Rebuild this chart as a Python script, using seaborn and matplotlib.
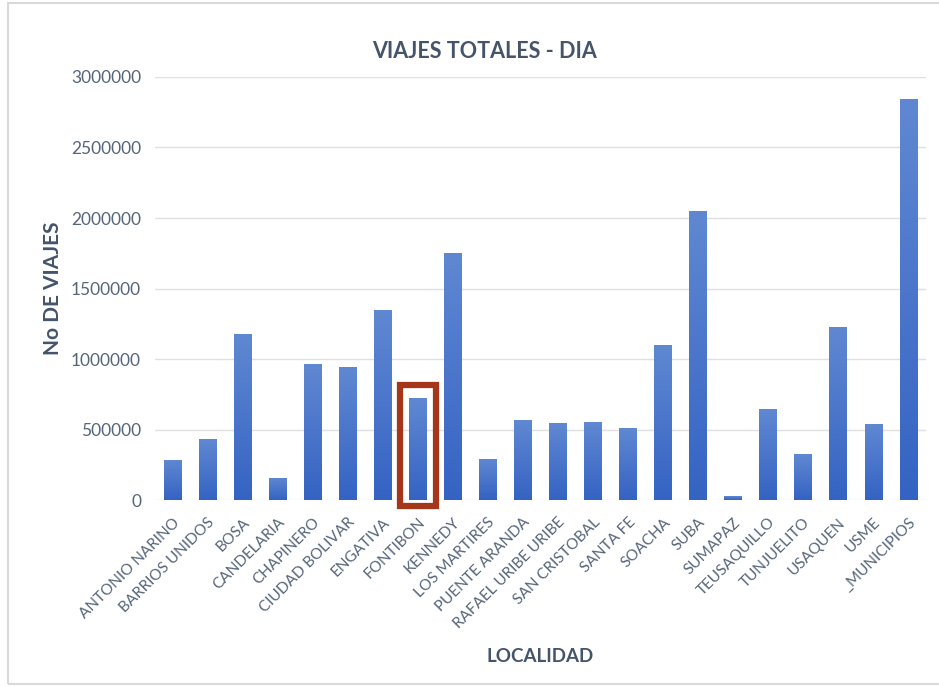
import numpy as np
import pandas as pd
import matplotlib
matplotlib.use("Agg")
import matplotlib.pyplot as plt
from matplotlib.patches import Rectangle
from matplotlib.colors import LinearSegmentedColormap
import seaborn as sns

# Data
localidades = [
    "ANTONIO NARINO", "BARRIOS UNIDOS", "BOSA", "CANDELARIA", "CHAPINERO",
    "CIUDAD BOLIVAR", "ENGATIVA", "FONTIBON", "KENNEDY", "LOS MARTIRES",
    "PUENTE ARANDA", "RAFAEL URIBE URIBE", "SAN CRISTOBAL", "SANTA FE",
    "SOACHA", "SUBA", "SUMAPAZ", "TEUSAQUILLO", "TUNJUELITO", "USAQUEN",
    "USME", "_MUNICIPIOS",
]
viajes = [
    284000, 432000, 1177000, 157000, 965000,
    943000, 1347000, 723000, 1752000, 291000,
    567000, 546000, 553000, 511000,
    1099000, 2050000, 28000, 645000, 326000, 1227000,
    539000, 2844000,
]
y_ticks = [0, 500000, 1000000, 1500000, 2000000, 2500000, 3000000]
resaltada = "FONTIBON"

df = pd.DataFrame({"localidad": localidades, "viajes": viajes})

sns.set_style("white")
plt.rcParams["font.family"] = ["Lato", "DejaVu Sans"]

text_dark = "#44546a"
text_tick = "#56657a"

fig = plt.figure(figsize=(9.39, 6.87), dpi=100)
ax = fig.add_axes([0.165, 0.272, 0.821, 0.616])

sns.barplot(data=df, x="localidad", y="viajes", color="#4472c4",
            width=0.5, ax=ax, zorder=2)

# gradient fill on bars (lighter top, darker bottom)
cmap = LinearSegmentedColormap.from_list("g", ["#3563c3", "#6088d2"])
grad = np.linspace(0, 1, 256).reshape(-1, 1)
for bar in ax.patches:
    x0, y0 = bar.get_x(), bar.get_y()
    w, h = bar.get_width(), bar.get_height()
    bar.set_facecolor("none")
    bar.set_edgecolor("none")
    im = ax.imshow(grad, cmap=cmap, aspect="auto", origin="lower",
                   extent=[x0, x0 + w, y0, y0 + h], zorder=2)
    im.set_clip_path(bar)

ax.set_xlim(-0.5, len(localidades) - 0.5)
ax.set_ylim(0, 3000000)
ax.set_yticks(y_ticks)
ax.set_yticklabels([str(v) for v in y_ticks], fontsize=12.5, color=text_tick)
ax.yaxis.grid(True, color="#e0e0e0", linewidth=1.0, zorder=0)
ax.set_axisbelow(True)
ax.tick_params(axis="both", length=0, pad=10)
ax.set_xticks(range(len(localidades)))
ax.set_xticklabels(localidades, rotation=45, ha="right", rotation_mode="anchor",
                   fontsize=11, color=text_tick)
ax.tick_params(axis="x", pad=11)
sns.despine(ax=ax, left=True, bottom=True)

# highlight box around FONTIBON
i = localidades.index(resaltada)
v = viajes[i]
box = Rectangle((i - 0.52, -45000), 1.04, v + 140000, fill=False,
                edgecolor="#a5361a", linewidth=4.5, clip_on=False, zorder=3)
ax.add_patch(box)

# title is centred on the chart area, not on the plot area
fig.text(0.516, 0.925, "VIAJES TOTALES - DIA", fontsize=15.5, fontweight="bold",
         color=text_dark, ha="center", va="center")
ax.set_ylabel("No DE VIAJES", fontsize=15, fontweight="bold", color=text_dark,
              labelpad=6)
ax.set_xlabel("LOCALIDAD", fontsize=13.5, fontweight="bold", color=text_dark,
              labelpad=12)

# outer chart border
fig.patches.append(Rectangle((0.008, 0.004), 0.995, 0.992, transform=fig.transFigure,
                             fill=False, edgecolor="#d9d9d9", linewidth=1.5))

fig.savefig("out.png", dpi=100)
